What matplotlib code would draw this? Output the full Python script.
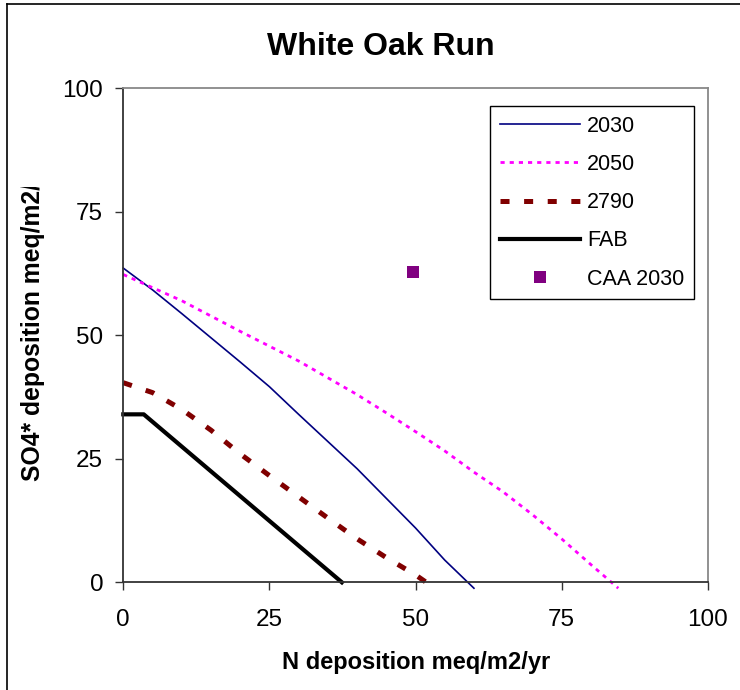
import matplotlib
matplotlib.use("Agg")
import matplotlib.pyplot as plt
from matplotlib.lines import Line2D
from matplotlib.transforms import Bbox, TransformedBbox

plt.rcParams['font.family'] = ['Liberation Sans', 'DejaVu Sans']
plt.rcParams['lines.scale_dashes'] = False

# curve values
x_2030 = [0, 5, 10, 15, 20, 25, 30, 35, 40, 45, 50, 55, 60]
y_2030 = [63.6, 59.2, 54.4, 49.5, 44.6, 39.6, 34.0, 28.5, 23.0, 17.0, 11.0, 4.5, -1.2]

x_2050 = [0, 10, 20, 30, 40, 45, 50, 55, 60, 65, 70, 75, 80, 84.7]
y_2050 = [62.3, 57.0, 50.8, 44.8, 38.0, 34.3, 30.5, 26.6, 22.3, 18.3, 13.7, 8.8, 3.6, -1.2]

x_2790 = [0, 5, 10, 15, 20, 25, 30, 35, 40, 45, 50, 53.3]
y_2790 = [40.4, 38.4, 35.0, 30.8, 26.0, 21.6, 17.3, 13.0, 8.8, 5.0, 1.5, -1.2]

x_fab = [0, 3.5, 37.4]
y_fab = [34.0, 34.0, 0]

caa_x = [49.5]
caa_y = [62.9]

ticks = [0, 25, 50, 75, 100]

fig = plt.figure(figsize=(7.4, 6.9), dpi=100)
ax = fig.add_axes([123.3 / 740, 1 - 582.3 / 690, (707.7 - 123.3) / 740, (582.3 - 88.3) / 690])

ax.plot(x_2030, y_2030, color='#000080', lw=1.2, label='2030', clip_on=False)
ax.plot(x_2050, y_2050, color='#FF00FF', lw=2.0, dashes=(3, 3.6), label='2050', clip_on=False)
ax.plot(x_2790, y_2790, color='#800000', lw=3.6, dashes=(6.5, 10.5), label='2790', clip_on=False)
ax.plot(x_fab, y_fab, color='black', lw=3.0, label='FAB', clip_on=False)
ax.plot(caa_x, caa_y, ls='none', marker='s', ms=8.5, mew=0, color='#800080', label='CAA 2030')

ax.set_xlim(0, 100)
ax.set_ylim(0, 100)
ax.set_xticks(ticks)
ax.set_yticks(ticks)
ax.tick_params(axis='both', direction='out', length=5.5, width=1, color='#333333', labelsize=17.5)
ax.tick_params(axis='x', pad=14)
ax.tick_params(axis='y', pad=9)

for s in ['left', 'bottom']:
    ax.spines[s].set_color('#333333')
    ax.spines[s].set_linewidth(1.3)
for s in ['top', 'right']:
    ax.spines[s].set_color('#888888')
    ax.spines[s].set_linewidth(1.3)

leg = ax.legend(loc='upper left', bbox_to_anchor=(0.6275, 0.9642), fontsize=15.5,
                frameon=True, fancybox=False, edgecolor='black', framealpha=1,
                handlelength=3.75, handletextpad=0.3, labelspacing=0.8, borderpad=0.45,
                borderaxespad=0)
leg.get_frame().set_linewidth(1.0)

fig.text(381 / 740, 1 - 47 / 690, 'White Oak Run', fontsize=23, fontweight='bold',
         ha='center', va='center')
fig.text(416 / 740, 1 - 663 / 690, 'N deposition meq/m2/yr', fontsize=17, fontweight='bold',
         ha='center', va='center')

# y label gets cut off at the top, as in the original
ylab = fig.text(33 / 740, 1 - 481 / 690, 'SO4* deposition meq/m2/yr', fontsize=17.8,
                fontweight='bold', rotation=90, ha='center', va='bottom')
ylab.set_clip_box(TransformedBbox(Bbox([[0, 0], [0.2, 1 - 187 / 690]]), fig.transFigure))
ylab.set_clip_on(True)

# outer chart border (only left and top edges are inside the image)
fig.add_artist(Line2D([7.3 / 740, 1], [1 - 4 / 690, 1 - 4 / 690], color='black', lw=1.2,
                      transform=fig.transFigure))
fig.add_artist(Line2D([7.3 / 740, 7.3 / 740], [0, 1 - 4 / 690], color='black', lw=1.2,
                      transform=fig.transFigure))

fig.savefig('out.png', dpi=100)
